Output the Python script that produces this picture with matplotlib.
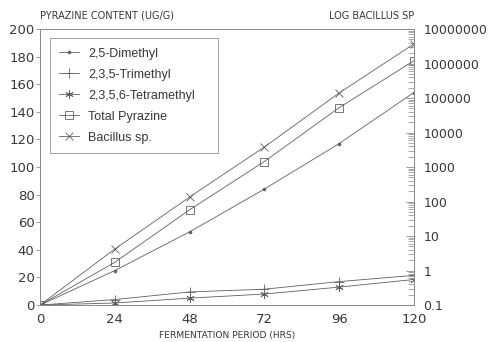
import matplotlib
matplotlib.use("Agg")
import matplotlib.pyplot as plt
from matplotlib.ticker import LogLocator, NullFormatter, FixedLocator

plt.rcParams["font.family"] = ["DejaVu Sans"]

# Fermentation time points (hours)
hours = [0, 24, 48, 72, 96, 120]

# Pyrazine content, ug/g
dimethyl = [0, 25, 53, 84, 117, 154]
trimethyl = [0, 4, 9.5, 11.5, 17, 21.5]
tetramethyl = [0, 1.5, 5, 8, 13, 18.5]
total_pyrazine = [0, 31, 69, 104, 143, 177]

# Bacillus sp. count (log scale, right axis)
bacillus = [0.1, 4.2, 135, 3800, 1.4e5, 3.7e6]

left_ticks = list(range(0, 201, 20))
right_ticks = [0.1, 1, 10, 100, 1000, 10000, 100000, 1000000, 10000000]
right_labels = ["0.1", "1", "10", "100", "1000", "10000", "100000", "1000000", "10000000"]

line_col = "#606060"
text_col = "#383838"
frame_col = "#8a8a8a"

fig = plt.figure(figsize=(4.88, 3.42), dpi=100)
ax = fig.add_axes([0.082, 0.108, 0.766, 0.807])
ax2 = ax.twinx()

common = dict(color=line_col, lw=0.6, mec=line_col, mew=0.6)
h1, = ax.plot(hours, dimethyl, marker="o", ms=2, mfc=line_col, label="2,5-Dimethyl", **common)
h2, = ax.plot(hours, trimethyl, marker="+", ms=7.5, mfc="none", label="2,3,5-Trimethyl", **common)
h3, = ax.plot(hours, tetramethyl, marker=(6, 2, 0), ms=6, mfc="none", label="2,3,5,6-Tetramethyl", **common)
h4, = ax.plot(hours, total_pyrazine, marker="s", ms=6, mfc="none", label="Total Pyrazine", **common)
h5, = ax2.plot(hours, bacillus, marker="x", ms=5.5, mfc="none", label="Bacillus sp.", **common)

ax.set_xlim(0, 120)
ax.set_ylim(0, 200)
ax.set_xticks(hours)
ax.set_yticks(left_ticks)
ax.tick_params(axis="both", colors=frame_col, labelcolor=text_col, labelsize=9.5)
ax.tick_params(axis="x", length=0, pad=6)
ax.tick_params(axis="y", length=3, width=0.6, direction="out", pad=1)

ax2.set_yscale("log")
ax2.set_ylim(0.1, 1e7)
ax2.yaxis.set_major_locator(FixedLocator(right_ticks))
ax2.set_yticklabels(right_labels)
ax2.yaxis.set_minor_locator(LogLocator(base=10, subs=range(2, 10), numticks=20))
ax2.yaxis.set_minor_formatter(NullFormatter())
ax2.tick_params(axis="y", which="major", direction="in", length=6, width=0.6,
                colors=frame_col, labelcolor=text_col, labelsize=9, pad=7)
ax2.tick_params(axis="y", which="minor", direction="in", length=4, width=0.5, colors=frame_col)

for a in (ax, ax2):
    for s in a.spines.values():
        s.set_color(frame_col)
        s.set_linewidth(0.7)

ax.text(0.0, 1.03, "PYRAZINE CONTENT (UG/G)", transform=ax.transAxes,
        fontsize=7, color=text_col, ha="left", va="bottom")
ax.text(1.0, 1.03, "LOG BACILLUS SP", transform=ax.transAxes,
        fontsize=7, color=text_col, ha="right", va="bottom")
ax.set_xlabel("FERMENTATION PERIOD (HRS)", fontsize=6.6, color=text_col, labelpad=3)

# legend box stretched to a fixed width, pinned to the upper left corner
leg = ax.legend(handles=[h1, h2, h3, h4, h5], loc="upper left", mode="expand",
                bbox_to_anchor=(0.027, 0.5, 0.449, 0.467), borderaxespad=0,
                frameon=True, fancybox=False, handlelength=1.6, labelspacing=0.72,
                borderpad=0.75, handletextpad=0.7, labelcolor=text_col,
                prop={"family": "Liberation Sans", "size": 9})
leg.get_frame().set_edgecolor(frame_col)
leg.get_frame().set_linewidth(0.7)

fig.savefig("out.png", dpi=100)
